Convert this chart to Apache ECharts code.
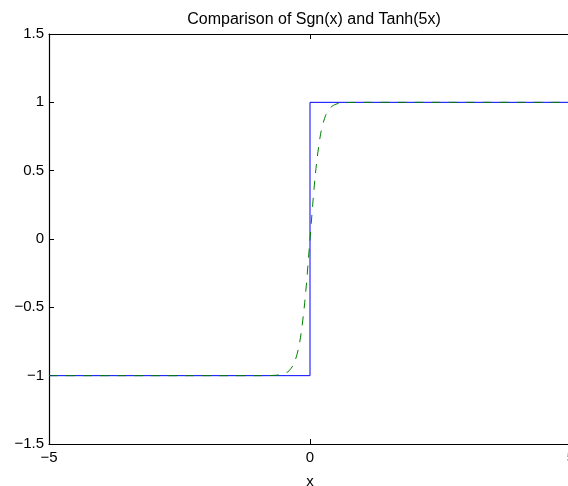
<!DOCTYPE html>
<html>
<head>
<meta charset="utf-8">
<script src="https://cdn.jsdelivr.net/npm/echarts@6/dist/echarts.min.js"></script>
<style>html,body{margin:0;padding:0;background:#fff}#c{width:568px;height:486px}</style>
</head>
<body>
<div id="c"></div>
<script>
var xTicks = [-5, 0, 5];
var yTicks = [-1.5, -1, -0.5, 0, 0.5, 1, 1.5];
var sgnX = [-5, 0, 0, 5];
var sgnY = [-1, -1, 1, 1];
var tanhX = [-5, -4, -3, -2, -1, -0.8, -0.7, -0.6, -0.5, -0.4, -0.3, -0.2, -0.1, 0, 0.1, 0.2, 0.3, 0.4, 0.5, 0.6, 0.7, 0.8, 1, 2, 3, 4, 5];
var tanhY = [-1, -1, -1, -1, -1, -0.9993, -0.998, -0.995, -0.987, -0.964, -0.905, -0.762, -0.462, 0, 0.462, 0.762, 0.905, 0.964, 0.987, 0.995, 0.998, 0.9993, 1, 1, 1, 1, 1];

function pairs(xs, ys) { return xs.map(function (x, i) { return [x, ys[i]]; }); }
function fmt(v) { return (v < 0 ? '\u2212' : '') + Math.abs(v); }

var font = 'Liberation Sans, Arial, Helvetica, sans-serif';
var chart = echarts.init(document.getElementById('c'));
chart.setOption({
  animation: false,
  title: {
    text: 'Comparison of Sgn(x) and Tanh(5x)',
    left: 309, top: 7, textAlign: 'center',
    textStyle: { fontFamily: font, fontSize: 16, fontWeight: 'normal', color: '#000' }
  },
  grid: { left: 49, top: 34, right: -3, bottom: 42, containLabel: false, outerBoundsMode: 'none' },
  xAxis: [{
    type: 'value', min: -5, max: 5, interval: 5,
    name: 'x', nameLocation: 'middle', nameGap: 30,
    nameTextStyle: { fontFamily: font, fontSize: 15, color: '#000' },
    axisLine: { show: true, onZero: false, lineStyle: { color: '#000', width: 1.2 } },
    axisTick: { show: true, inside: true, length: 5, lineStyle: { color: '#000' } },
    axisLabel: { fontFamily: font, fontSize: 15, color: '#000', margin: 6, formatter: fmt, showMaxLabel: true, hideOverlap: false },
    splitLine: { show: false }
  }, {
    type: 'value', min: -5, max: 5, interval: 5, position: 'top',
    axisLine: { show: true, onZero: false, lineStyle: { color: '#000', width: 1.2 } },
    axisTick: { show: true, inside: true, length: 5, lineStyle: { color: '#000' } },
    axisLabel: { show: false },
    splitLine: { show: false }
  }],
  yAxis: [{
    type: 'value', min: -1.5, max: 1.5, interval: 0.5,
    axisLine: { show: true, onZero: false, lineStyle: { color: '#000', width: 1.2 } },
    axisTick: { show: true, inside: true, length: 5, lineStyle: { color: '#000' } },
    axisLabel: { fontFamily: font, fontSize: 15, color: '#000', margin: 5, formatter: fmt, hideOverlap: false },
    splitLine: { show: false }
  }],
  series: [{
    type: 'line', data: pairs(sgnX, sgnY), showSymbol: false, symbol: 'none',
    lineStyle: { color: '#0000ff', width: 1 }, z: 2
  }, {
    type: 'line', data: pairs(tanhX, tanhY), showSymbol: false, symbol: 'none', smooth: 0.3,
    lineStyle: { color: '#008000', width: 1, type: [9, 8] }, z: 3
  }]
});
</script>
</body>
</html>
